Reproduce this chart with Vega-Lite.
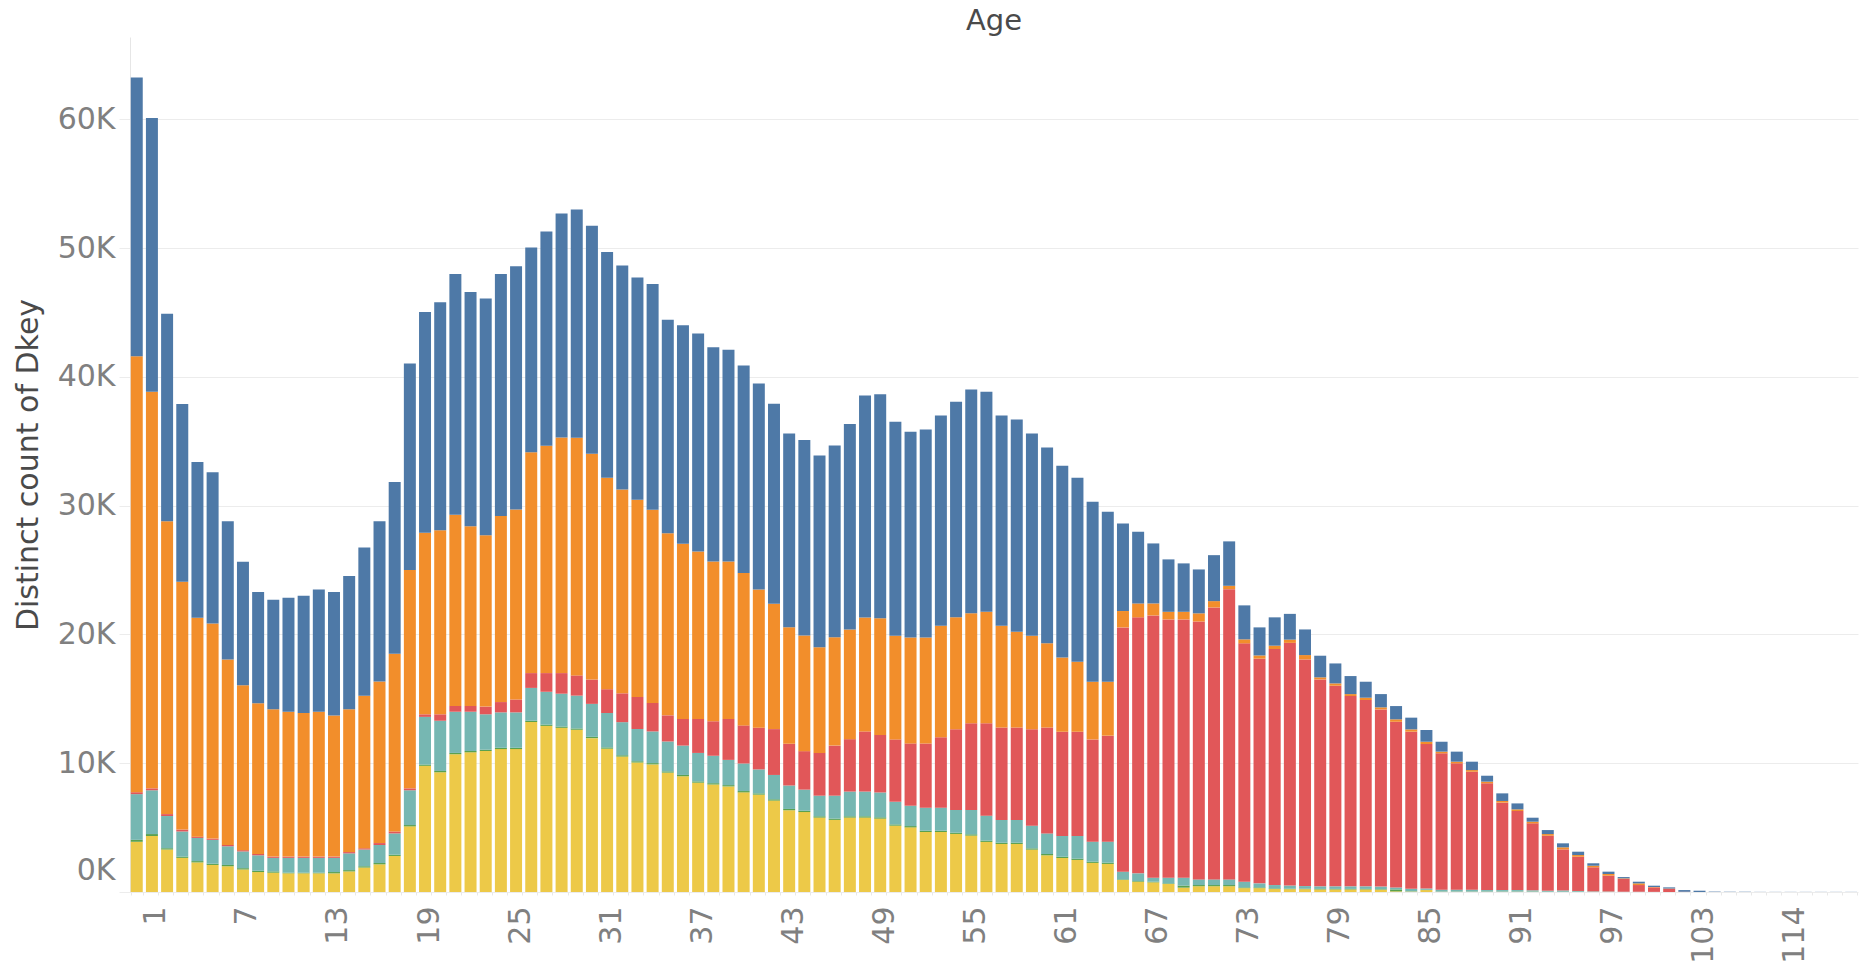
{
  "$schema": "https://vega.github.io/schema/vega-lite/v6.json",
  "width": 1728,
  "height": 855,
  "autosize": {"type": "none"},
  "padding": {"left": 130, "top": 37, "right": 6, "bottom": 74},
  "background": "white",
  "title": {"text": "Age", "font": "DejaVu Sans", "fontSize": 29, "fontWeight": "normal", "color": "#4a4a4a", "anchor": "middle", "frame": "group", "offset": 1},
  "data": {"values": [
    {"age":0,"A":3900,"B":150,"C":3550,"D":150,"E":33850,"F":21650},
    {"age":1,"A":4350,"B":150,"C":3400,"D":150,"E":30800,"F":21250},
    {"age":2,"A":3300,"B":100,"C":2500,"D":150,"E":22750,"F":16100},
    {"age":3,"A":2650,"B":100,"C":1950,"D":150,"E":19250,"F":13800},
    {"age":4,"A":2300,"B":100,"C":1800,"D":100,"E":17000,"F":12100},
    {"age":5,"A":2100,"B":100,"C":1850,"D":100,"E":16700,"F":11750},
    {"age":6,"A":2000,"B":100,"C":1450,"D":100,"E":14400,"F":10750},
    {"age":7,"A":1750,"B":100,"C":1300,"D":100,"E":12800,"F":9600},
    {"age":8,"A":1550,"B":100,"C":1200,"D":100,"E":11700,"F":8650},
    {"age":9,"A":1500,"B":100,"C":1050,"D":100,"E":11450,"F":8500},
    {"age":10,"A":1450,"B":50,"C":1150,"D":100,"E":11250,"F":8850},
    {"age":11,"A":1450,"B":50,"C":1150,"D":100,"E":11150,"F":9100},
    {"age":12,"A":1450,"B":50,"C":1150,"D":100,"E":11250,"F":9500},
    {"age":13,"A":1450,"B":100,"C":1100,"D":100,"E":10950,"F":9600},
    {"age":14,"A":1600,"B":100,"C":1300,"D":100,"E":11100,"F":10350},
    {"age":15,"A":1900,"B":100,"C":1300,"D":100,"E":11850,"F":11500},
    {"age":16,"A":2150,"B":100,"C":1400,"D":150,"E":12550,"F":12450},
    {"age":17,"A":2800,"B":100,"C":1650,"D":150,"E":13800,"F":13350},
    {"age":18,"A":5100,"B":100,"C":2700,"D":150,"E":16950,"F":16050},
    {"age":19,"A":9800,"B":100,"C":3700,"D":200,"E":14100,"F":17150},
    {"age":20,"A":9300,"B":100,"C":3900,"D":500,"E":14300,"F":17700},
    {"age":21,"A":10700,"B":100,"C":3200,"D":450,"E":14850,"F":18700},
    {"age":22,"A":10850,"B":100,"C":3050,"D":450,"E":13950,"F":18200},
    {"age":23,"A":10950,"B":100,"C":2750,"D":600,"E":13300,"F":18400},
    {"age":24,"A":11100,"B":100,"C":2750,"D":800,"E":14450,"F":18800},
    {"age":25,"A":11100,"B":100,"C":2750,"D":1000,"E":14750,"F":18900},
    {"age":26,"A":13200,"B":100,"C":2550,"D":1150,"E":17150,"F":15900},
    {"age":27,"A":12900,"B":100,"C":2550,"D":1450,"E":17650,"F":16650},
    {"age":28,"A":12750,"B":100,"C":2550,"D":1600,"E":18300,"F":17400},
    {"age":29,"A":12600,"B":100,"C":2550,"D":1570,"E":18460,"F":17720},
    {"age":30,"A":11950,"B":100,"C":2560,"D":1890,"E":17530,"F":17720},
    {"age":31,"A":11130,"B":100,"C":2670,"D":1850,"E":16430,"F":17520},
    {"age":32,"A":10520,"B":100,"C":2570,"D":2240,"E":15820,"F":17400},
    {"age":33,"A":10060,"B":100,"C":2490,"D":2500,"E":15320,"F":17250},
    {"age":34,"A":9910,"B":100,"C":2460,"D":2210,"E":15010,"F":17530},
    {"age":35,"A":9270,"B":100,"C":2320,"D":2030,"E":14150,"F":16570},
    {"age":36,"A":8990,"B":100,"C":2280,"D":2070,"E":13610,"F":16960},
    {"age":37,"A":8490,"B":100,"C":2210,"D":2640,"E":13000,"F":16930},
    {"age":38,"A":8350,"B":100,"C":2130,"D":2680,"E":12400,"F":16640},
    {"age":39,"A":8200,"B":100,"C":1960,"D":3180,"E":12220,"F":16460},
    {"age":40,"A":7740,"B":100,"C":2140,"D":2960,"E":11830,"F":16110},
    {"age":41,"A":7560,"B":100,"C":1860,"D":3240,"E":10730,"F":16000},
    {"age":42,"A":7100,"B":100,"C":1890,"D":3560,"E":9730,"F":15540},
    {"age":43,"A":6350,"B":100,"C":1820,"D":3240,"E":9050,"F":15040},
    {"age":44,"A":6210,"B":100,"C":1640,"D":2990,"E":8980,"F":15180},
    {"age":45,"A":5780,"B":100,"C":1600,"D":3320,"E":8200,"F":14890},
    {"age":46,"A":5600,"B":100,"C":1780,"D":3890,"E":8410,"F":14900},
    {"age":47,"A":5780,"B":100,"C":1920,"D":4070,"E":8510,"F":15970},
    {"age":48,"A":5780,"B":100,"C":1920,"D":4670,"E":8840,"F":17250},
    {"age":49,"A":5700,"B":100,"C":1930,"D":4470,"E":9050,"F":17400},
    {"age":50,"A":5150,"B":100,"C":1760,"D":4840,"E":8050,"F":16620},
    {"age":51,"A":5020,"B":100,"C":1580,"D":4840,"E":8230,"F":15970},
    {"age":52,"A":4660,"B":100,"C":1790,"D":4990,"E":8230,"F":16150},
    {"age":53,"A":4660,"B":100,"C":1790,"D":5460,"E":8670,"F":16320},
    {"age":54,"A":4510,"B":100,"C":1760,"D":6260,"E":8700,"F":16740},
    {"age":55,"A":4380,"B":100,"C":1890,"D":6730,"E":8540,"F":17390},
    {"age":56,"A":3890,"B":100,"C":1940,"D":7170,"E":8660,"F":17090},
    {"age":57,"A":3730,"B":100,"C":1760,"D":7190,"E":7900,"F":16320},
    {"age":58,"A":3730,"B":100,"C":1760,"D":7190,"E":7430,"F":16490},
    {"age":59,"A":3290,"B":100,"C":1760,"D":7480,"E":7270,"F":15710},
    {"age":60,"A":2850,"B":100,"C":1600,"D":8230,"E":6530,"F":15210},
    {"age":61,"A":2640,"B":100,"C":1610,"D":8100,"E":5770,"F":14880},
    {"age":62,"A":2490,"B":100,"C":1760,"D":8100,"E":5430,"F":14290},
    {"age":63,"A":2260,"B":100,"C":1550,"D":7940,"E":4480,"F":13970},
    {"age":64,"A":2180,"B":100,"C":1630,"D":8230,"E":4190,"F":13200},
    {"age":65,"A":930,"B":50,"C":600,"D":18970,"E":1270,"F":6800},
    {"age":66,"A":800,"B":50,"C":600,"D":19880,"E":1080,"F":5570},
    {"age":67,"A":750,"B":50,"C":310,"D":20370,"E":930,"F":4660},
    {"age":68,"A":620,"B":50,"C":440,"D":20060,"E":590,"F":4070},
    {"age":69,"A":340,"B":160,"C":610,"D":20060,"E":590,"F":3760},
    {"age":70,"A":450,"B":90,"C":440,"D":20030,"E":630,"F":3410},
    {"age":71,"A":450,"B":90,"C":440,"D":21120,"E":490,"F":3570},
    {"age":72,"A":450,"B":90,"C":440,"D":22540,"E":260,"F":3450},
    {"age":73,"A":300,"B":60,"C":440,"D":18510,"E":310,"F":2640},
    {"age":74,"A":300,"B":60,"C":310,"D":17450,"E":250,"F":2180},
    {"age":75,"A":230,"B":50,"C":260,"D":18330,"E":260,"F":2200},
    {"age":76,"A":220,"B":40,"C":240,"D":18850,"E":250,"F":2000},
    {"age":77,"A":220,"B":40,"C":200,"D":17600,"E":340,"F":1990},
    {"age":78,"A":200,"B":40,"C":200,"D":16070,"E":160,"F":1680},
    {"age":79,"A":200,"B":40,"C":200,"D":15580,"E":180,"F":1550},
    {"age":80,"A":200,"B":40,"C":200,"D":14780,"E":150,"F":1400},
    {"age":81,"A":200,"B":40,"C":200,"D":14470,"E":180,"F":1240},
    {"age":82,"A":180,"B":40,"C":200,"D":13760,"E":160,"F":1030},
    {"age":83,"A":50,"B":150,"C":150,"D":12870,"E":190,"F":1030},
    {"age":84,"A":30,"B":20,"C":200,"D":12200,"E":180,"F":910},
    {"age":85,"A":150,"B":20,"C":100,"D":11220,"E":180,"F":910},
    {"age":86,"A":20,"B":10,"C":150,"D":10590,"E":130,"F":770},
    {"age":87,"A":20,"B":10,"C":150,"D":9810,"E":130,"F":780},
    {"age":88,"A":20,"B":10,"C":150,"D":9160,"E":130,"F":650},
    {"age":89,"A":20,"B":10,"C":120,"D":8290,"E":130,"F":460},
    {"age":90,"A":20,"B":10,"C":120,"D":6790,"E":130,"F":590},
    {"age":91,"A":20,"B":10,"C":120,"D":6140,"E":130,"F":460},
    {"age":92,"A":20,"B":10,"C":100,"D":5200,"E":130,"F":310},
    {"age":93,"A":10,"B":10,"C":80,"D":4270,"E":130,"F":310},
    {"age":94,"A":10,"B":10,"C":100,"D":3190,"E":160,"F":310},
    {"age":95,"A":10,"B":10,"C":60,"D":2660,"E":130,"F":260},
    {"age":96,"A":10,"B":0,"C":40,"D":1870,"E":120,"F":190},
    {"age":97,"A":10,"B":0,"C":30,"D":1230,"E":130,"F":180},
    {"age":98,"A":0,"B":0,"C":20,"D":1000,"E":40,"F":100},
    {"age":99,"A":0,"B":0,"C":20,"D":520,"E":130,"F":130},
    {"age":100,"A":0,"B":0,"C":10,"D":350,"E":30,"F":100},
    {"age":101,"A":0,"B":0,"C":0,"D":250,"E":20,"F":90},
    {"age":102,"A":0,"B":0,"C":0,"D":20,"E":0,"F":130},
    {"age":103,"A":0,"B":0,"C":0,"D":0,"E":0,"F":100},
    {"age":104,"A":0,"B":0,"C":0,"D":0,"E":0,"F":30},
    {"age":105,"A":0,"B":0,"C":0,"D":0,"E":0,"F":20},
    {"age":106,"A":0,"B":0,"C":0,"D":0,"E":0,"F":20},
    {"age":107,"A":0,"B":0,"C":0,"D":0,"E":0,"F":10},
    {"age":108,"A":0,"B":0,"C":0,"D":0,"E":0,"F":10},
    {"age":114,"A":0,"B":0,"C":0,"D":0,"E":0,"F":10},
    {"age":115,"A":0,"B":0,"C":0,"D":0,"E":0,"F":10},
    {"age":116,"A":0,"B":0,"C":0,"D":0,"E":0,"F":10},
    {"age":117,"A":0,"B":0,"C":0,"D":0,"E":0,"F":10},
    {"age":118,"A":0,"B":0,"C":0,"D":0,"E":0,"F":10}
  ]},
  "transform": [{"fold": ["A", "B", "C", "D", "E", "F"], "as": ["group", "count"]}],
  "mark": {"type": "bar"},
  "encoding": {
    "x": {
      "field": "age",
      "type": "ordinal",
      "sort": "ascending",
      "scale": {"paddingInner": 0.21, "paddingOuter": 0.05},
      "axis": {
        "title": null,
        "labelAngle": -90,
        "labelFont": "DejaVu Sans",
        "labelFontSize": 30,
        "labelColor": "#808080",
        "labelExpr": "(datum.value <= 103 && datum.value % 6 == 1) || datum.value == 114 ? datum.label : ''",
        "labelOverlap": false,
        "labelPadding": 11,
        "labelOffset": 4,
        "tickSize": 3,
        "tickBand": "extent",
        "tickColor": "#e8e8e8",
        "domain": false,
        "grid": false
      }
    },
    "y": {
      "field": "count",
      "type": "quantitative",
      "stack": "zero",
      "scale": {"domain": [0, 66400], "nice": false},
      "axis": {
        "title": "Distinct count of Dkey",
        "titleFont": "DejaVu Sans",
        "titleFontSize": 30,
        "titleFontWeight": "normal",
        "titleColor": "#4a4a4a",
        "titleX": -93,
        "titleBaseline": "alphabetic",
        "values": [0, 10000, 20000, 30000, 40000, 50000, 60000],
        "labelExpr": "datum.value / 1000 + 'K'",
        "labelFont": "DejaVu Sans",
        "labelFontSize": 30,
        "labelColor": "#808080",
        "labelPadding": 4,
        "labelOffset": {"condition": {"test": "datum.value == 0", "value": -22}, "value": 0},
        "tickSize": 11,
        "tickColor": "#ececec",
        "gridColor": "#ececec",
        "domainColor": "#e6e6e6"
      }
    },
    "color": {
      "field": "group",
      "type": "nominal",
      "scale": {"domain": ["A", "B", "C", "D", "E", "F"], "range": ["#EDC948", "#59A14F", "#76B7B2", "#E15759", "#F28E2B", "#4E79A7"]},
      "legend": null
    },
    "order": {"field": "group", "sort": "ascending"}
  },
  "config": {"view": {"stroke": null}}
}
